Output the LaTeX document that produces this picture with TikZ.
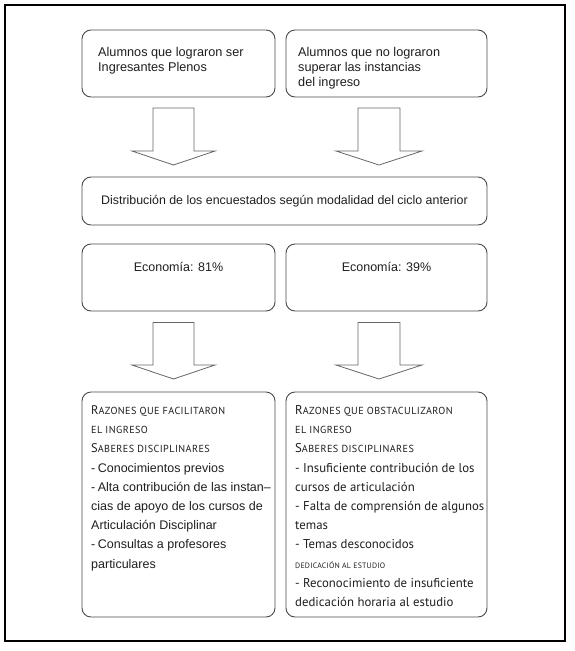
\documentclass[tikz,border=0pt]{standalone}
\usepackage{fontspec}
\setmainfont{Liberation Sans}
\newfontfamily\ptsans{PT Sans}
\definecolor{boxgray}{HTML}{4A4A4A}
\definecolor{arrowgray}{HTML}{666666}
\definecolor{txt}{HTML}{1E1E1E}
\newcommand\fakesc[3]{{\ptsans #1{\fontsize{#3}{19.2}\selectfont\addfontfeature{LetterSpace=4}\MakeUppercase{#2}}}}
\begin{document}
\begin{tikzpicture}[x=1pt,y=-1pt,
  box/.style={draw=boxgray,line width=0.9pt,rounded corners=9pt,inner sep=0pt},
  blockarrow/.style={draw=arrowgray,line width=0.8pt,fill=white,line join=miter},
  lbl/.style={inner sep=0pt,anchor=base west,text=txt},
  clbl/.style={inner sep=0pt,anchor=base,text=txt,font=\fontsize{12.5}{15}\selectfont}]
\useasboundingbox (0,0) rectangle (574,651);
\node[draw=black,line width=1.2pt,minimum width=560pt,minimum height=636pt,inner sep=0pt] (frame) at (285,323) {};
% boxes
\node[box,minimum width=193pt,minimum height=67pt] (b1) at (178.5,63.5) {};
\node[box,minimum width=201pt,minimum height=67pt] (b2) at (386.5,63.5) {};
\node[box,minimum width=405pt,minimum height=48pt] (dist) at (284.5,201) {};
\node[box,minimum width=193pt,minimum height=67pt] (e1) at (178.5,277.5) {};
\node[box,minimum width=201pt,minimum height=67pt] (e2) at (386.5,277.5) {};
\node[box,minimum width=193pt,minimum height=225pt] (r1) at (178.5,504.5) {};
\node[box,minimum width=201pt,minimum height=225pt] (r2) at (386.5,504.5) {};
% block arrows
\draw[blockarrow] (153,108) -- (194,108) -- (194,151) -- (215,151) -- (173.5,165) -- (132,151) -- (153,151) -- cycle;
\draw[blockarrow] (358,108) -- (400,108) -- (400,151) -- (422,151) -- (379,165) -- (336,151) -- (358,151) -- cycle;
\draw[blockarrow] (153,322.5) -- (194,322.5) -- (194,365) -- (215,365) -- (173.5,379) -- (132,365) -- (153,365) -- cycle;
\draw[blockarrow] (358,322.5) -- (400,322.5) -- (400,365) -- (422,365) -- (379,379) -- (336,365) -- (358,365) -- cycle;
% texts
\node[lbl] (t1) at (98,56) {\parbox[t]{175pt}{\fontsize{12.7}{15.2}\selectfont\raggedright
Alumnos que lograron ser\\Ingresantes Plenos}};
\node[lbl] (t2) at (298,56) {\parbox[t]{180pt}{\fontsize{12.7}{15.2}\selectfont\raggedright
Alumnos que no lograron\\superar las instancias\\del ingreso}};
\node[clbl,font=\fontsize{12.4}{15}\selectfont] (tdist) at (284.5,204) {Distribución de los encuestados según modalidad del ciclo anterior};
\node[clbl] (te1) at (178.5,271) {Economía: 81\%};
\node[clbl] (te2) at (386.5,271) {Economía: 39\%};
\node[lbl] (tr1) at (91,414.5) {\parbox[t]{182pt}{\fontsize{12.5}{19.2}\selectfont\raggedright
\fakesc{R}{azones que facilitaron}{10.2}\\
\fakesc{}{el ingreso}{10.2}\\
\fakesc{S}{aberes disciplinares}{10.2}\\
-\hspace{2.5pt}Conocimientos previos\\
-\hspace{2.5pt}Alta contribución de las instan--\\
cias de apoyo de los cursos de\\
Articulación Disciplinar\\
-\hspace{2.5pt}Consultas a profesores\\
particulares}};
\node[lbl] (tr2) at (295,414.5) {\parbox[t]{190pt}{\ptsans\fontsize{12.8}{19.2}\selectfont\raggedright
\fakesc{R}{azones que obstaculizaron}{10.2}\\
\fakesc{}{el ingreso}{10.2}\\
\fakesc{S}{aberes disciplinares}{10.2}\\
- Insuficiente contribución de los\\
cursos de articulación\\
- Falta de comprensión de algunos\\
temas\\
- Temas desconocidos\\
{\fontsize{7.8}{19.2}\selectfont\addfontfeature{LetterSpace=3}DEDICACIÓN AL ESTUDIO}\\
- Reconocimiento de insuficiente\\
dedicación horaria al estudio}};
\end{tikzpicture}
\end{document}
